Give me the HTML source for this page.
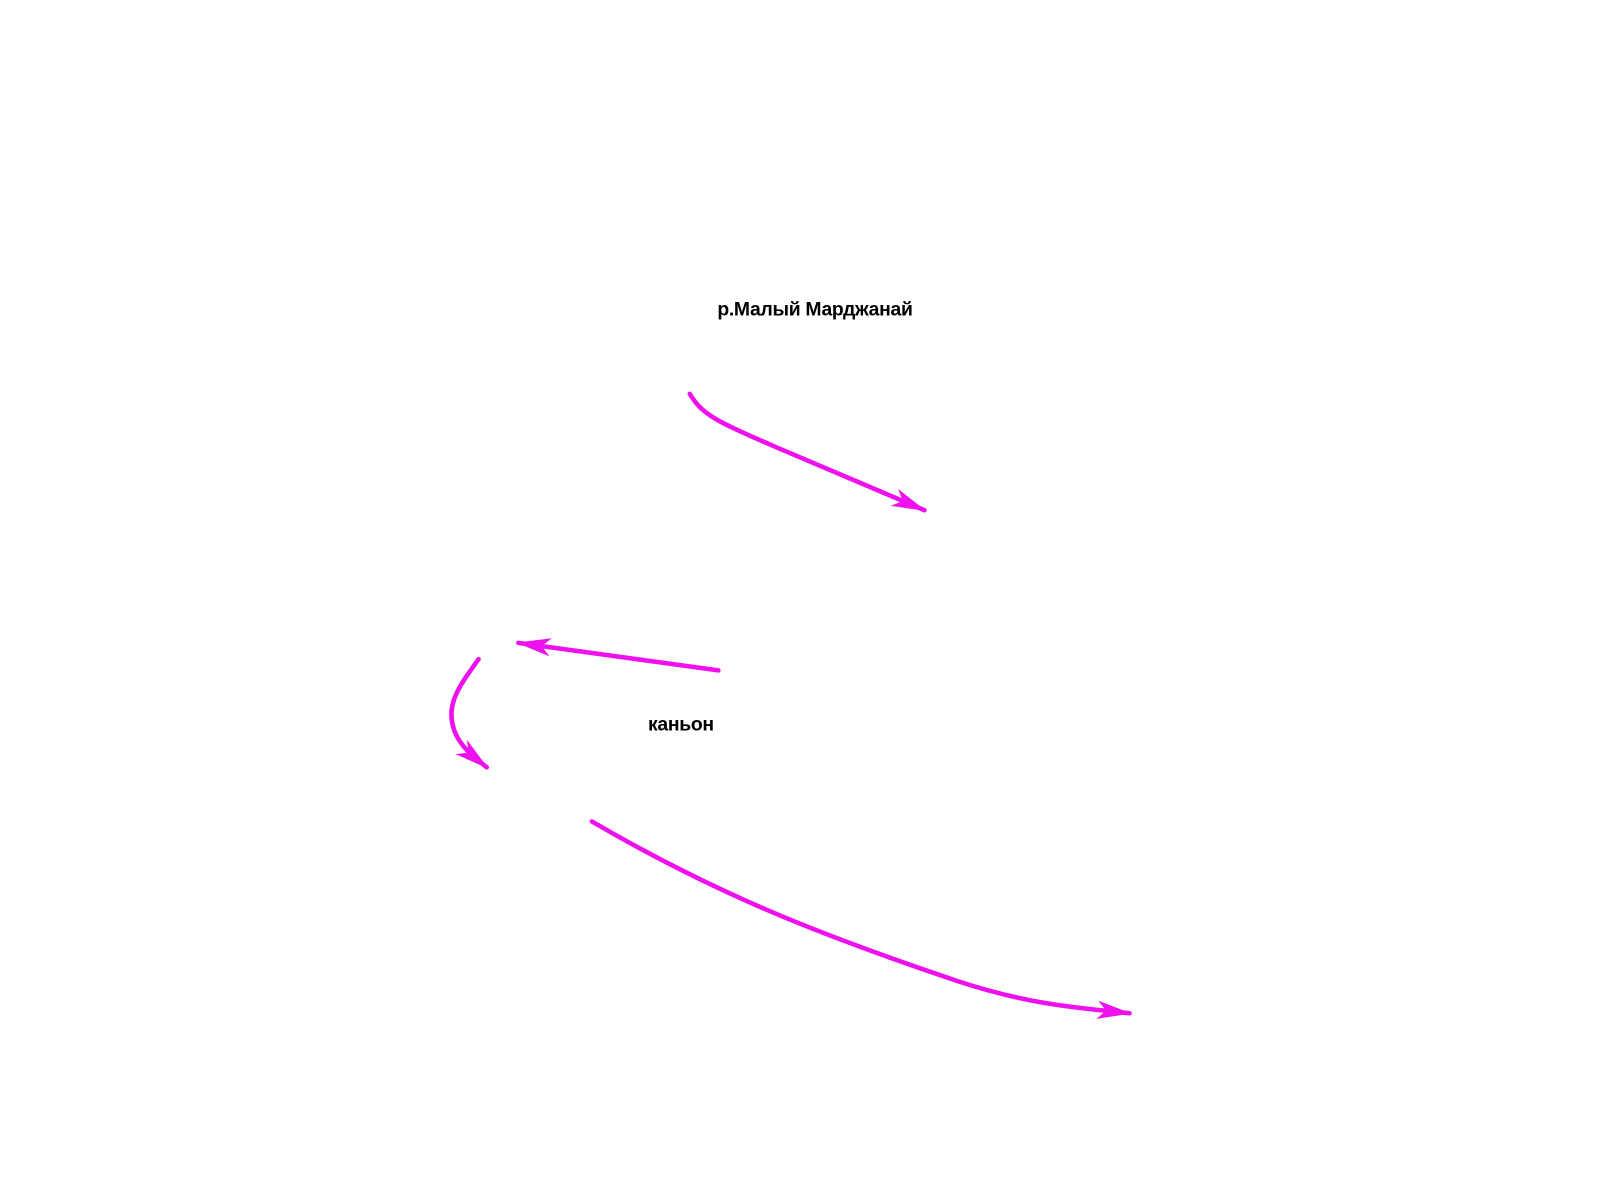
<!DOCTYPE html>
<html><head><meta charset="utf-8"><style>
html,body{margin:0;padding:0;background:#fff;}
svg{display:block}
text{font-family:"Liberation Sans",sans-serif;font-weight:bold;font-size:19px;fill:#000;letter-spacing:-0.3px}
</style></head><body>
<svg width="1600" height="1200" viewBox="0 0 1600 1200" xmlns="http://www.w3.org/2000/svg">
<defs>
<marker id="a" markerUnits="userSpaceOnUse" markerWidth="40" markerHeight="30" refX="32" refY="9" orient="auto">
<path d="M34,9 L0,0 L9,9 L0,18 Z" fill="#ee11ee"/>
</marker>
</defs>
<g transform="scale(1.0204)">
<g fill="none" stroke="#ee11ee" stroke-width="4.5" stroke-linecap="round">
<path d="M676,386 C688,406 700,412 760,438 L906,500" marker-end="url(#a)"/>
<path d="M704,657 L508,630" marker-end="url(#a)"/>
<path d="M469,646 C448,675 436,692 446,718 C452,732 462,740 477,752" marker-end="url(#a)"/>
<path d="M580,805 C700,875 800,915 940,962 C1010,985 1060,988 1107,993" marker-end="url(#a)"/>
</g>
<text x="703" y="309">р.Малый Марджанай</text>
<text x="635" y="716">каньон</text>
</g>
</svg>
</body></html>
